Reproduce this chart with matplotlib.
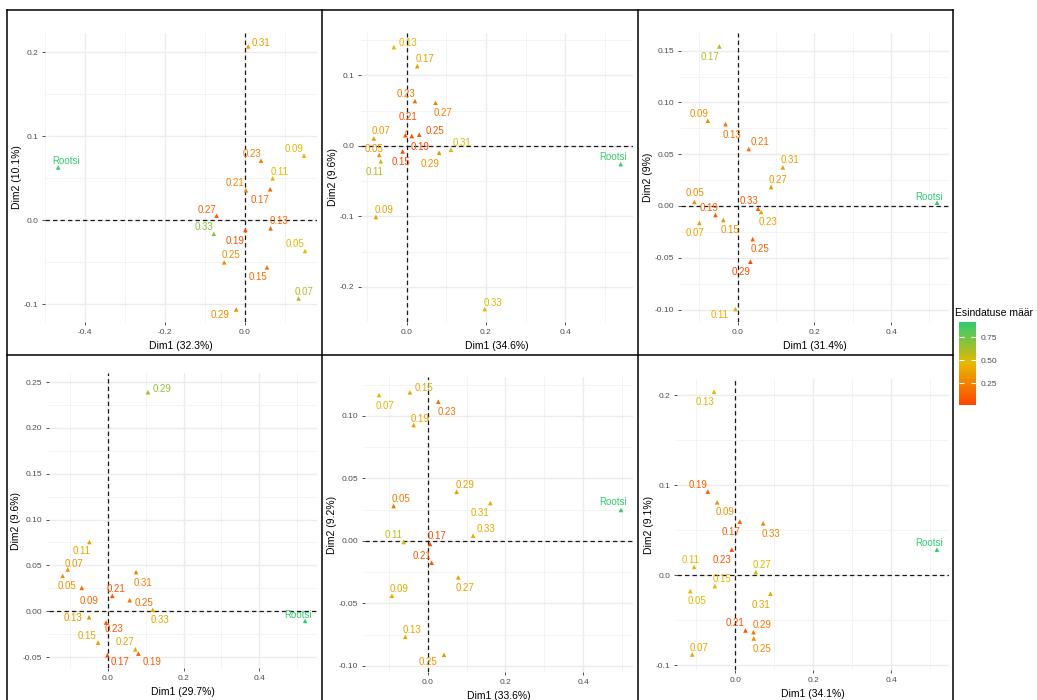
import matplotlib
matplotlib.use('Agg')
import matplotlib.pyplot as plt
from matplotlib.colors import LinearSegmentedColormap, Normalize
from matplotlib.cm import ScalarMappable
from matplotlib.lines import Line2D
from matplotlib.ticker import MultipleLocator, FuncFormatter

plt.rcParams['font.family'] = ['Liberation Sans', 'DejaVu Sans']

# point names, same order in all six panels
labels = ['0.05', '0.07', '0.09', '0.11', '0.13', '0.15', '0.17', '0.19',
          '0.21', '0.23', '0.25', '0.27', '0.29', '0.31', '0.33', 'Rootsi']

dim1_pct = ['32.3%', '34.6%', '31.4%', '29.7%', '33.6%', '34.1%']
dim2_pct = ['10.1%', '9.6%', '9%', '9.6%', '9.2%', '9.1%']

# panel 1
p1_x = [0.150, 0.134, 0.1475, 0.069, 0.064, 0.055, 0.063, 0.001,
        0.0025, 0.040, -0.052, -0.071, -0.022, 0.008, -0.078, -0.467]
p1_y = [-0.0365, -0.093, 0.077, 0.050, -0.0095, -0.056, 0.037, -0.0115,
        0.0357, 0.071, -0.050, 0.0055, -0.106, 0.207, -0.016, 0.063]
p1_cos2 = [0.47, 0.60, 0.50, 0.48, 0.15, 0.18, 0.15, 0.06,
           0.25, 0.25, 0.30, 0.12, 0.28, 0.35, 0.70, 0.90]

# panel 2
p2_x = [-0.069, -0.0826, -0.0775, -0.065, -0.032, -0.010, 0.027, 0.013,
        -0.003, 0.021, 0.032, 0.073, 0.082, 0.112, 0.197, 0.540]
p2_y = [-0.013, 0.0105, -0.101, -0.022, 0.140, -0.008, 0.113, 0.0138,
        0.015, 0.0634, 0.0157, 0.061, -0.0099, -0.0057, -0.2317, -0.026]
p2_cos2 = [0.32, 0.35, 0.38, 0.60, 0.45, 0.04, 0.35, 0.04,
           0.07, 0.20, 0.07, 0.25, 0.30, 0.52, 0.50, 0.88]

# panel 3
p3_x = [-0.113, -0.100, -0.078, -0.006, -0.032, -0.0375, -0.048, -0.058,
        0.0287, 0.061, 0.039, 0.087, 0.033, 0.1175, 0.053, 0.520]
p3_y = [0.0039, -0.0164, 0.0823, -0.0995, 0.079, -0.0135, 0.154, -0.0087,
        0.055, -0.0058, -0.032, 0.0183, -0.0538, 0.0373, -0.0026, 0.0032]
p3_cos2 = [0.30, 0.38, 0.30, 0.42, 0.18, 0.32, 0.58, 0.12,
           0.18, 0.38, 0.12, 0.33, 0.03, 0.35, 0.10, 0.91]

# panel 4
p4_x = [-0.119, -0.1056, -0.0686, -0.0485, -0.0493, -0.0256, -0.001, 0.0808,
        0.012, -0.0045, 0.058, 0.073, 0.106, 0.0747, 0.1187, 0.5206]
p4_y = [0.0386, 0.0456, 0.0255, 0.0755, -0.0066, -0.0343, -0.048, -0.0463,
        0.0168, -0.0124, 0.012, -0.0416, 0.239, 0.0427, 0.0015, -0.0106]
p4_cos2 = [0.32, 0.33, 0.15, 0.38, 0.30, 0.38, 0.04, 0.12,
           0.08, 0.08, 0.18, 0.38, 0.68, 0.25, 0.38, 0.90]

# panel 5
p5_x = [-0.0874, -0.125, -0.0918, -0.0617, -0.0575, -0.0455, 0.006, -0.036,
        0.0103, 0.0273, 0.042, 0.0787, 0.0745, 0.161, 0.117, 0.497]
p5_y = [0.0278, 0.1166, -0.044, -0.001, -0.0768, 0.1187, -0.0026, 0.0926,
        -0.0176, 0.1112, -0.0912, -0.0293, 0.0392, 0.0302, 0.004, 0.0246]
p5_cos2 = [0.20, 0.45, 0.40, 0.55, 0.40, 0.40, 0.04, 0.38,
           0.08, 0.18, 0.33, 0.35, 0.36, 0.42, 0.40, 0.90]

# panel 6
p6_x = [-0.115, -0.110, -0.046, -0.105, -0.054, -0.052, 0.0118, -0.070,
        0.0264, -0.0087, 0.0478, 0.053, 0.047, 0.0905, 0.0718, 0.517]
p6_y = [-0.0174, -0.0878, 0.0811, 0.0093, 0.2038, -0.0118, 0.0597, 0.093,
        -0.0611, 0.0286, -0.070, 0.0037, -0.063, -0.0203, 0.0578, 0.0286]
p6_cos2 = [0.45, 0.40, 0.30, 0.48, 0.50, 0.45, 0.10, 0.12,
           0.08, 0.06, 0.30, 0.48, 0.20, 0.38, 0.25, 0.90]

# label offsets in pixels (like ggrepel placed them)
p1_off = [(-10, 7), (5, 6), (-10, 7), (7, 6), (8, 7), (-9, -10), (-10, -11), (-10, -11),
          (-11, 7), (-9, 7), (7, 7), (-10, 6), (-16, -6), (13, 3), (-10, 7), (8, 6)]
p2_off = [(-5, 6), (7, 7), (8, 7), (-6, -11), (14, 4), (-2, -11), (8, 7), (8, -11),
          (3, 18), (-9, 7), (16, 4), (7, -10), (-9, -11), (11, 7), (8, 6), (-8, 7)]
p3_off = [(1, 9), (-4, -10), (-9, 7), (-16, -6), (7, -11), (7, -10), (-9, -11), (-6, 7),
          (11, 7), (7, -10), (7, -10), (7, 7), (-9, -10), (7, 7), (-9, 8), (-8, 6)]
p4_off = [(4, -10), (6, 5), (7, -13), (-8, -9), (-16, -1), (-11, 7), (13, -7), (14, -8),
          (4, 7), (8, -6), (14, -3), (-10, 7), (14, 3), (7, -11), (7, -10), (-7, 6)]
p5_off = [(7, 7), (6, -11), (7, 7), (-10, 7), (7, 7), (14, 4), (7, 8), (6, 6),
          (-10, 7), (9, -10), (-16, -7), (7, -11), (8, 7), (-10, -10), (13, 7), (-8, 8)]
p6_off = [(7, -10), (7, 7), (8, -10), (-4, 7), (-9, -10), (7, 7), (-9, -10), (-10, 7),
          (-10, 7), (-10, -10), (8, -11), (6, 7), (9, 7), (-9, -11), (8, -11), (-8, 7)]

panels = [(p1_x, p1_y, p1_cos2, p1_off), (p2_x, p2_y, p2_cos2, p2_off),
          (p3_x, p3_y, p3_cos2, p3_off), (p4_x, p4_y, p4_cos2, p4_off),
          (p5_x, p5_y, p5_cos2, p5_off), (p6_x, p6_y, p6_cos2, p6_off)]

# layout: plot areas in pixels (left, top, right, bottom) and axis limits
W, H = 1037, 700
boxes = [(45, 33, 317, 322), (361, 33, 633, 322), (681, 33, 949, 322),
         (49, 373, 317, 668), (365, 377, 633, 672), (677, 379, 949, 670)]
xlims = [(-0.5, 0.18), (-0.115, 0.571), (-0.148, 0.551),
         (-0.155, 0.552), (-0.161, 0.528), (-0.149, 0.548)]
ylims = [(-0.121, 0.223), (-0.25, 0.16), (-0.112, 0.167),
         (-0.062, 0.26), (-0.105, 0.131), (-0.105, 0.218)]
ysteps = [0.1, 0.1, 0.05, 0.05, 0.05, 0.1]
ydec = [1, 1, 2, 2, 2, 1]

cmap = LinearSegmentedColormap.from_list('esind', ['#FF4500', '#E7B800', '#2ECC71'])
norm = Normalize(0.014, 0.913)


def fmt(d):
    def f(v, _):
        if abs(v) < 1e-9:
            v = 0.0
        return f'{v:.{d}f}'
    return f


fig = plt.figure(figsize=(W / 100, H / 100), dpi=100)

for i, (xs, ys, cs, offs) in enumerate(panels):
    l, t, r, b = boxes[i]
    ax = fig.add_axes([l / W, 1 - b / H, (r - l) / W, (b - t) / H])
    ax.set_xlim(xlims[i])
    ax.set_ylim(ylims[i])
    for s in ax.spines.values():
        s.set_visible(False)
    ax.xaxis.set_major_locator(MultipleLocator(0.2))
    ax.xaxis.set_minor_locator(MultipleLocator(0.1))
    ax.yaxis.set_major_locator(MultipleLocator(ysteps[i]))
    ax.yaxis.set_minor_locator(MultipleLocator(ysteps[i] / 2))
    ax.xaxis.set_major_formatter(FuncFormatter(fmt(1)))
    ax.yaxis.set_major_formatter(FuncFormatter(fmt(ydec[i])))
    ax.grid(which='major', color='#EBEBEB', lw=1.0)
    ax.grid(which='minor', color='#F3F3F3', lw=0.7)
    ax.set_axisbelow(True)
    ax.tick_params(which='major', length=2.5, width=0.6, color='#333333',
                   labelsize=6, labelcolor='#4D4D4D', pad=2.5)
    ax.tick_params(which='minor', length=0)

    ax.axhline(0, color='#1a1a1a', ls=(0, (3.5, 2.5)), lw=0.9, zorder=2)
    ax.axvline(0, color='#1a1a1a', ls=(0, (3.5, 2.5)), lw=0.9, zorder=2)

    cols = cmap(norm(cs))
    ax.scatter(xs, ys, c=cols, marker='^', s=11, linewidths=0, zorder=3)
    for j, lab in enumerate(labels):
        dx, dy = offs[j]
        arrow = None
        if abs(dy) >= 15:
            arrow = dict(arrowstyle='-', color=cols[j], lw=0.6, shrinkA=4, shrinkB=2)
        ax.annotate(lab, (xs[j], ys[j]), xytext=(dx, dy), textcoords='offset pixels',
                    ha='center', va='center', fontsize=7, color=cols[j],
                    arrowprops=arrow, zorder=4)

    ax.set_xlabel(f'Dim1 ({dim1_pct[i]})', fontsize=7.5, labelpad=3.5)
    ax.set_ylabel(f'Dim2 ({dim2_pct[i]})', fontsize=7.5, labelpad=1)

# panel borders
def fline(x0, y0, x1, y1):
    fig.add_artist(Line2D([x0 / W, x1 / W], [1 - y0 / H, 1 - y1 / H],
                          transform=fig.transFigure, color='black', lw=1.1))

fline(7, 10, 953, 10)
fline(7, 355, 953, 355)
for xb in [7, 322, 638, 953]:
    fline(xb, 10, xb, 700)

# legend
fig.text(955 / W, 1 - 313 / H, 'Esindatuse määr', fontsize=7.5, ha='left', va='center')
cax = fig.add_axes([959 / W, 1 - 405 / H, 17 / W, 83 / H])
cb = fig.colorbar(ScalarMappable(norm=norm, cmap=cmap), cax=cax, ticks=[0.25, 0.5, 0.75])
cb.outline.set_visible(False)
cax.yaxis.set_major_formatter(FuncFormatter(fmt(2)))
cax.tick_params(direction='in', color='white', length=3.5, width=0.8, left=True,
                right=True, labelsize=6, labelcolor='#4D4D4D', pad=3)

fig.savefig('out.png', dpi=100)
